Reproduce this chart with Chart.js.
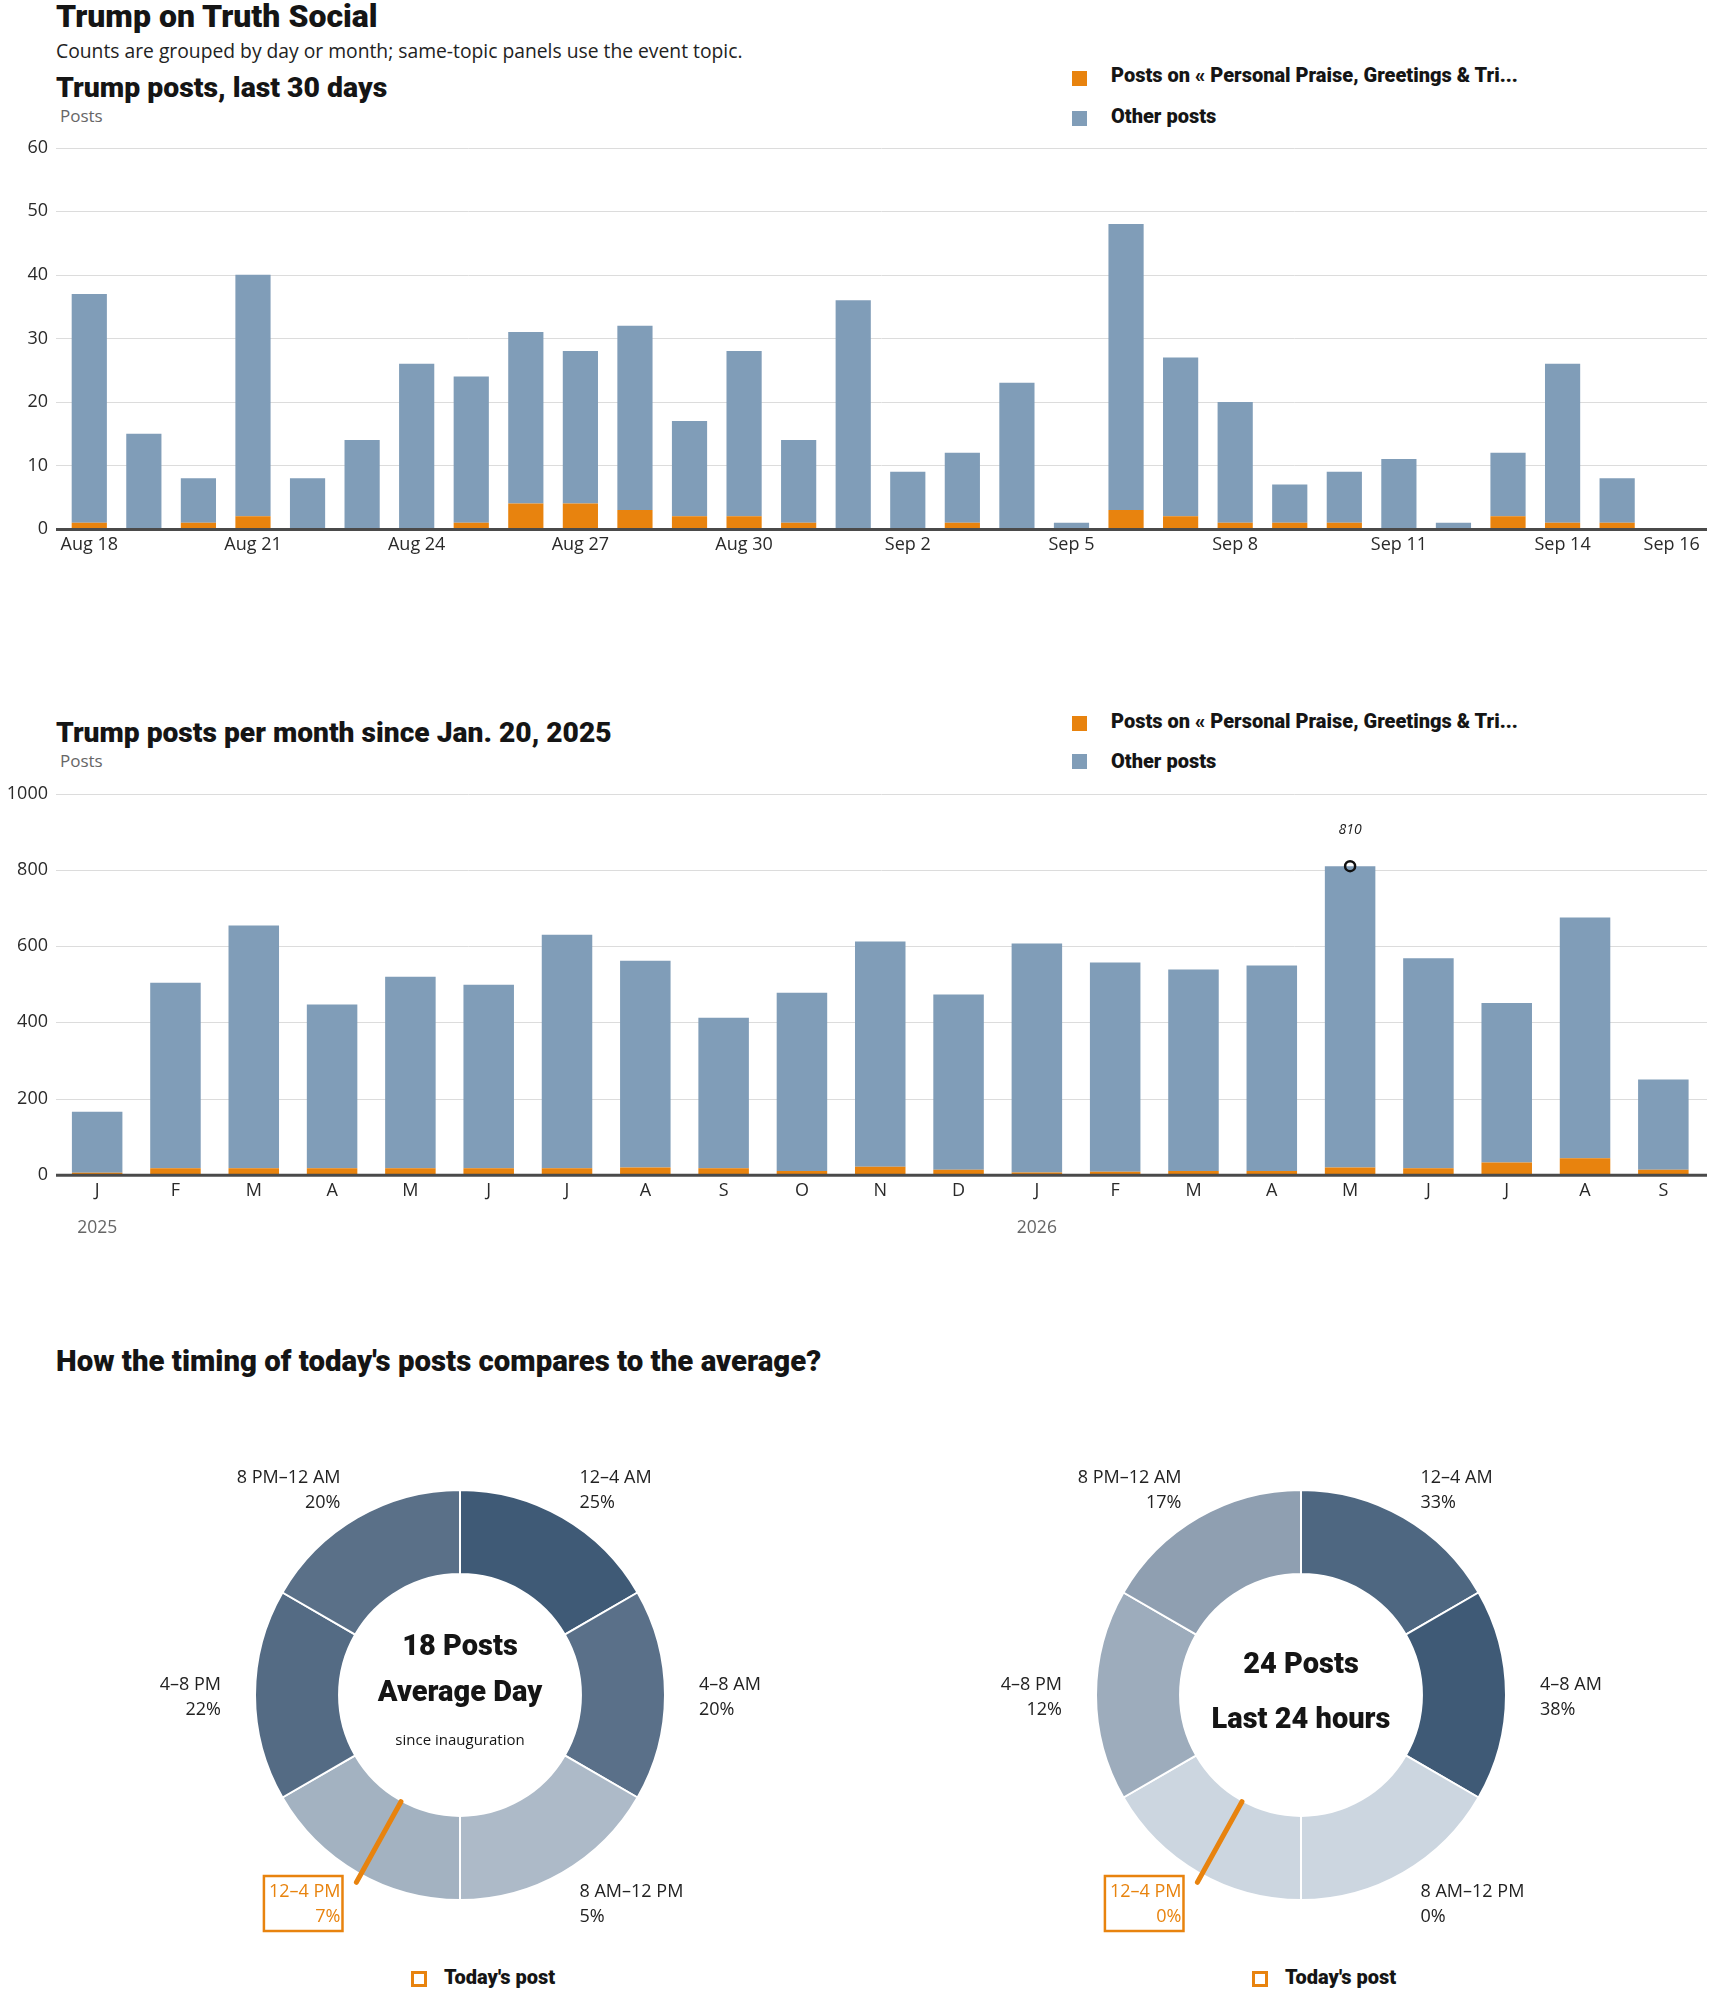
<!DOCTYPE html>
<html>
<head>
<meta charset="utf-8">
<script src="https://cdn.jsdelivr.net/npm/chart.js@4.4.1/dist/chart.umd.min.js"></script>
<style>
  body { margin: 0; background: #fff; font-family: "Open Sans", "Liberation Sans", sans-serif; color: #151515; }
  #page { position: relative; width: 1710px; height: 1993px; overflow: hidden; }
  .t { position: absolute; white-space: nowrap; line-height: 1.2; transform: translateY(-50%); }
  .head { font-family: Roboto, "Liberation Sans", sans-serif; font-weight: 900; }
  .sub { font-size: 19.3px; color: #222; }
  .axisname { font-size: 17px; color: #666; }
  .leg { font-family: Roboto, "Liberation Sans", sans-serif; font-size: 20px; font-weight: 900; }
  .sq { position: absolute; width: 15px; height: 15px; }
  .box { position: absolute; width: 10px; height: 10px; border: 3px solid #e8830e; }
  canvas { position: absolute; }
</style>
</head>
<body>
<div id="page">
  <div class="t head" style="left:56px; top:16px; font-size:32px;">Trump on Truth Social</div>
  <div class="t sub" style="left:56px; top:51px;">Counts are grouped by day or month; same-topic panels use the event topic.</div>

  <div class="t head" style="left:56px; top:88px; font-size:28.4px;">Trump posts, last 30 days</div>
  <div class="t axisname" style="left:60px; top:116px;">Posts</div>
  <div class="sq" style="left:1072px; top:71px; background:#e8830e;"></div>
  <div class="t leg" style="left:1111px; top:75px;">Posts on « Personal Praise, Greetings &amp; Tri...</div>
  <div class="sq" style="left:1072px; top:111px; background:#809db8;"></div>
  <div class="t leg" style="left:1111px; top:116px;">Other posts</div>
  <canvas id="daily" width="1710" height="447" style="left:0; top:123px;"></canvas>

  <div class="t head" style="left:56px; top:733px; font-size:28.2px;">Trump posts per month since Jan. 20, 2025</div>
  <div class="t axisname" style="left:60px; top:761px;">Posts</div>
  <div class="sq" style="left:1072px; top:716px; background:#e8830e;"></div>
  <div class="t leg" style="left:1111px; top:721px;">Posts on « Personal Praise, Greetings &amp; Tri...</div>
  <div class="sq" style="left:1072px; top:754px; background:#809db8;"></div>
  <div class="t leg" style="left:1111px; top:761px;">Other posts</div>
  <canvas id="monthly" width="1710" height="473" style="left:0; top:773px;"></canvas>

  <div class="t head" style="left:56px; top:1362px; font-size:29.4px;">How the timing of today's posts compares to the average?</div>
  <canvas id="avgDay" width="800" height="520" style="left:60px; top:1435px;"></canvas>
  <canvas id="last24" width="800" height="520" style="left:901px; top:1435px;"></canvas>
  <div class="box" style="left:411px; top:1971px;"></div>
  <div class="t leg" style="left:444px; top:1977px;">Today's post</div>
  <div class="box" style="left:1252px; top:1971px;"></div>
  <div class="t leg" style="left:1285px; top:1977px;">Today's post</div>
</div>

<script>
// ---- data: last 30 days ----
const dayLabels = ['Aug 18','Aug 19','Aug 20','Aug 21','Aug 22','Aug 23','Aug 24','Aug 25','Aug 26','Aug 27',
  'Aug 28','Aug 29','Aug 30','Aug 31','Sep 1','Sep 2','Sep 3','Sep 4','Sep 5','Sep 6',
  'Sep 7','Sep 8','Sep 9','Sep 10','Sep 11','Sep 12','Sep 13','Sep 14','Sep 15','Sep 16'];
const dayTopic = [1,0,1,2,0,0,0,1,4,4, 3,2,2,1,0,0,1,0,0,3, 2,1,1,1,0,0,2,1,1,0];
const dayOther = [36,15,7,38,8,14,26,23,27,24, 29,15,26,13,36,9,11,23,1,45, 25,19,6,8,11,1,10,25,7,0];

// ---- data: per month since inauguration ----
const monthLabels = ['J','F','M','A','M','J','J','A','S','O','N','D','J','F','M','A','M','J','J','A','S'];
const monthTopic = [5,17,17,17,17,17,17,19,17,10,21,13,6,8,10,10,19,17,32,43,13];
const monthOther = [160,487,637,430,503,482,613,543,395,468,591,460,601,549,529,539,791,551,419,632,237];
const yearIndex = [0, 12];
const yearLabels = ['2025', '2026'];
const peakIndex = 16;
const peakValue = 810;

// ---- data: timing donuts ----
const slotLabels = ['12–4 AM','4–8 AM','8 AM–12 PM','12–4 PM','4–8 PM','8 PM–12 AM'];
const slotHours = [4,4,4,4,4,4];
const avgShare = [25,20,5,7,22,20];
const last24Share = [33,38,0,0,12,17];
const todaySlot = 3;
const todayPostHour = 13.93;

const topicName = 'Posts on « Personal Praise, Greetings & Tri...';
const orange = '#e8830e';
const blue = '#809db8';
const avgColors = ['#3f5a76','#5a7089','#adbac8','#a3b2c1','#546b84','#5a7088'];
const last24Colors = ['#4e6781','#3f5a76','#ccd6e0','#ccd6e0','#9dacbc','#8f9fb1'];

const bodyFont = '"Open Sans", "Liberation Sans", sans-serif';
const heavyFont = 'Roboto, "Liberation Sans", sans-serif';
Chart.defaults.font.family = bodyFont;
Chart.defaults.color = '#2a2a2a';

// gridlines wider than the plot area + dark zero line
const gridPlugin = {
  id: 'fullGrid',
  beforeDatasetsDraw(chart, args, opts) {
    const ctx = chart.ctx, y = chart.scales.y;
    ctx.save();
    ctx.strokeStyle = '#dcdcdc';
    ctx.lineWidth = 1;
    y.ticks.forEach(t => {
      if (t.value === 0) return;
      const py = Math.round(y.getPixelForValue(t.value)) + 0.5;
      ctx.beginPath(); ctx.moveTo(opts.left, py); ctx.lineTo(opts.right, py); ctx.stroke();
    });
    ctx.restore();
  },
  afterDatasetsDraw(chart, args, opts) {
    const ctx = chart.ctx, py = chart.scales.y.getPixelForValue(0);
    ctx.save();
    ctx.strokeStyle = '#4a4a4a';
    ctx.lineWidth = 3;
    ctx.beginPath(); ctx.moveTo(opts.left, py + 0.5); ctx.lineTo(opts.right, py + 0.5); ctx.stroke();
    ctx.restore();
  }
};

function barOptions(ymax, step, yWidth, padding, xHeight, tickCb) {
  return {
    responsive: false,
    animation: false,
    events: [],
    layout: { padding: padding },
    datasets: { bar: { categoryPercentage: 1, barPercentage: 0.645 } },
    scales: {
      x: {
        stacked: true,
        grid: { display: false, drawTicks: false },
        border: { display: false },
        ticks: { autoSkip: false, maxRotation: 0, padding: 5, font: { size: 18 }, callback: tickCb },
        afterFit: s => { s.height = xHeight; }
      },
      y: {
        stacked: true, min: 0, max: ymax,
        grid: { display: false, drawTicks: false },
        border: { display: false },
        ticks: { stepSize: step, padding: yWidth - 48, font: { size: 18 }, callback: v => String(v) },
        afterFit: s => { s.width = yWidth; }
      }
    },
    plugins: {
      legend: { display: false },
      tooltip: { enabled: false },
      fullGrid: { left: 56, right: 1707 }
    }
  };
}

// chart 1: last 30 days
new Chart(document.getElementById('daily'), {
  type: 'bar',
  data: {
    labels: dayLabels,
    datasets: [
      { label: topicName, data: dayTopic, backgroundColor: orange, stack: 'posts' },
      { label: 'Other posts', data: dayOther, backgroundColor: blue, stack: 'posts' }
    ]
  },
  options: barOptions(60, 10, 62, { top: 0, right: 11, bottom: 1, left: 0 }, 40,
    (v, i) => (i % 3 === 0 || i === dayLabels.length - 1) ? dayLabels[i] : ''),
  plugins: [gridPlugin]
});

// chart 2: per month
const yearPlugin = {
  id: 'years',
  afterDraw(chart) {
    const ctx = chart.ctx, x = chart.scales.x;
    ctx.save();
    ctx.fillStyle = '#666';
    ctx.font = '17.5px ' + bodyFont;
    ctx.textAlign = 'center';
    ctx.textBaseline = 'middle';
    yearIndex.forEach((idx, k) => ctx.fillText(yearLabels[k], x.getPixelForValue(idx), chart.chartArea.bottom + 53));
    // peak annotation
    const pt = chart.getDatasetMeta(2).data[peakIndex];
    ctx.fillStyle = '#222';
    ctx.font = 'italic 14px ' + bodyFont;
    ctx.fillText(String(peakValue), pt.x, pt.y - 36);
    ctx.restore();
  }
};

const monthOpts = barOptions(1000, 200, 58, { top: 0, right: 5, bottom: 1.3, left: 0 }, 70,
  (v, i) => monthLabels[i]);

new Chart(document.getElementById('monthly'), {
  type: 'bar',
  data: {
    labels: monthLabels,
    datasets: [
      { label: topicName, data: monthTopic, backgroundColor: orange, stack: 'posts', order: 1 },
      { label: 'Other posts', data: monthOther, backgroundColor: blue, stack: 'posts', order: 1 },
      {
        type: 'line', label: 'peak', stack: 'peak', showLine: false, order: 0,
        data: monthLabels.map((m, i) => i === peakIndex ? peakValue : null),
        pointRadius: 5, pointBorderWidth: 2.5, pointBorderColor: '#111',
        pointBackgroundColor: 'rgba(0,0,0,0)'
      }
    ]
  },
  options: monthOpts,
  plugins: [gridPlugin, yearPlugin]
});

// donuts
const donutPlugin = {
  id: 'donutText',
  afterDatasetsDraw(chart, args, opts) {
    const ctx = chart.ctx;
    const arcs = chart.getDatasetMeta(0).data;
    const cx = arcs[0].x, cy = arcs[0].y;
    const rOut = arcs[0].outerRadius, rIn = arcs[0].innerRadius;
    const rLab = rOut * 1.166;
    ctx.save();
    ctx.font = '18px ' + bodyFont;
    ctx.textBaseline = 'middle';
    arcs.forEach((a, i) => {
      const mid = (a.startAngle + a.endAngle) / 2;
      const x = cx + rLab * Math.cos(mid), y = cy + rLab * Math.sin(mid) + 2;
      const right = Math.cos(mid) > 0.01;
      ctx.textAlign = right ? 'left' : 'right';
      ctx.fillStyle = i === todaySlot ? orange : '#222';
      ctx.fillText(slotLabels[i], x, y - 12.5);
      ctx.fillText(opts.shares[i] + '%', x, y + 12.5);
      if (i === todaySlot) {
        const w = Math.max(ctx.measureText(slotLabels[i]).width, ctx.measureText(opts.shares[i] + '%').width);
        ctx.strokeStyle = orange;
        ctx.lineWidth = 2.5;
        ctx.strokeRect(x - w - 5, y - 28, w + 7, 55);
      }
    });
    // marker for today's post
    const ang = todayPostHour / 24 * Math.PI * 2 - Math.PI / 2;
    ctx.strokeStyle = orange;
    ctx.lineWidth = 5;
    ctx.lineCap = 'round';
    ctx.beginPath();
    ctx.moveTo(cx + (rIn + 1) * Math.cos(ang), cy + (rIn + 1) * Math.sin(ang));
    ctx.lineTo(cx + (rOut + 9) * Math.cos(ang), cy + (rOut + 9) * Math.sin(ang));
    ctx.stroke();
    // centre text
    ctx.textAlign = 'center';
    ctx.fillStyle = '#151515';
    opts.center.forEach(line => {
      ctx.font = line.font;
      ctx.fillText(line.text, cx, cy + line.dy);
    });
    ctx.restore();
  }
};

function donut(id, shares, colors, center) {
  new Chart(document.getElementById(id), {
    type: 'doughnut',
    data: {
      labels: slotLabels,
      datasets: [{ data: slotHours, backgroundColor: colors, borderColor: '#fff', borderWidth: 2, hoverOffset: 0 }]
    },
    options: {
      responsive: false,
      animation: false,
      events: [],
      cutout: '59%',
      layout: { padding: { top: 54, bottom: 54, left: 0, right: 0 } },
      plugins: {
        legend: { display: false },
        tooltip: { enabled: false },
        donutText: { shares: shares, center: center }
      }
    },
    plugins: [donutPlugin]
  });
}

const heavy = '900 29px ' + heavyFont;
donut('avgDay', avgShare, avgColors, [
  { text: '18 Posts', dy: -47, font: heavy },
  { text: 'Average Day', dy: -1, font: heavy },
  { text: 'since inauguration', dy: 46, font: '15px ' + bodyFont }
]);
donut('last24', last24Share, last24Colors, [
  { text: '24 Posts', dy: -29, font: heavy },
  { text: 'Last 24 hours', dy: 26, font: heavy }
]);
</script>
</body>
</html>
